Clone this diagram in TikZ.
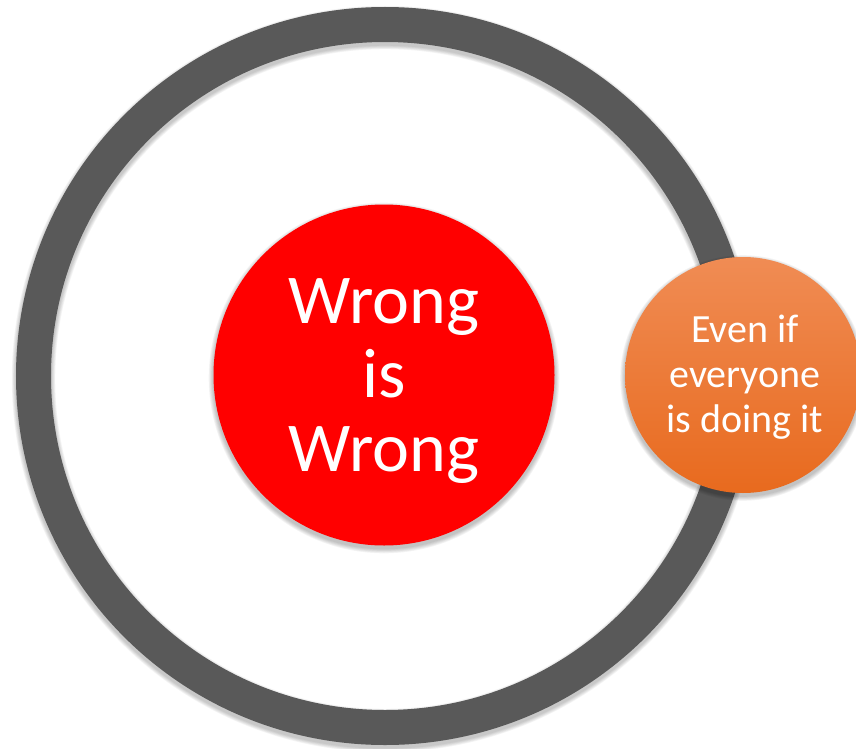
\documentclass[tikz,border=0pt]{standalone}
\usepackage{fontspec}
\setmainfont{Carlito}
\definecolor{ringgray}{RGB}{89,89,89}
\definecolor{bigred}{RGB}{255,0,0}
\definecolor{orangetop}{RGB}{240,140,84}
\definecolor{orangebot}{RGB}{232,106,30}
\tikzset{
  ringstyle/.style={circle, draw=ringgray, line width=35pt, minimum size=703pt, inner sep=0pt},
  redstyle/.style={circle, fill=bigred, minimum size=341pt, inner sep=0pt},
  orangestyle/.style={circle, top color=orangetop, bottom color=orangebot, minimum size=236pt, inner sep=0pt},
  bigtext/.style={text=white, align=center, font=\fontsize{70}{74}\selectfont},
  smalltext/.style={text=white, align=center, font=\fontsize{40}{45}\selectfont},
  shadowfill/.style={fill=black, opacity=0.045},
}
\begin{document}
\begin{tikzpicture}[x=1pt,y=-1pt]
\useasboundingbox (0,0) rectangle (856,749);
\clip (0,0) rectangle (856,749);
% ring shadow
\foreach \k in {1,...,6} {
  \draw[black, opacity=0.04, line width={35pt+\k*1.4pt}] (385,379) circle[radius=351.5pt];
}
\node[ringstyle] (ring) at (385,376) {};
% red circle shadow
\foreach \k in {1,...,6} {
  \fill[shadowfill] (384,378) circle[radius={170.5pt+\k*0.8pt}];
}
\node[redstyle] (red) at (384,375) {};
% orange circle shadow
\foreach \k in {1,...,6} {
  \fill[shadowfill] (743,378) circle[radius={118pt+\k*0.8pt}];
}
\node[orangestyle] (orange) at (743,375) {};
% texts
\node[bigtext] (redtxt) at (384,381) {Wrong\\is\\Wrong};
\node[smalltext] (orangetxt) at (745,377) {Even if\\everyone\\is doing it};
\end{tikzpicture}
\end{document}
